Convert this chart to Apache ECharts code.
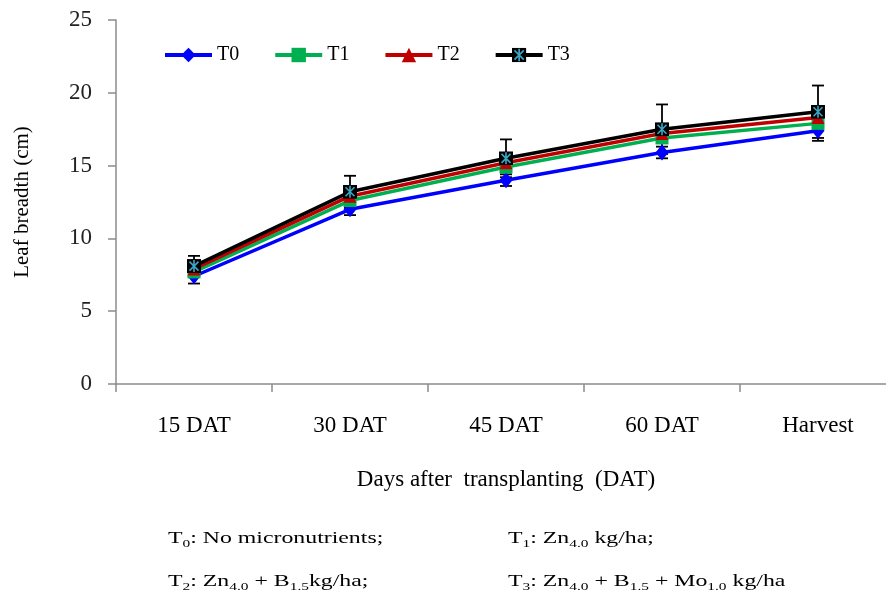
<!DOCTYPE html>
<html><head><meta charset="utf-8">
<script src="https://cdn.jsdelivr.net/npm/echarts@6/dist/echarts.min.js"></script>
<style>html,body{margin:0;padding:0;background:#fff}#c{width:886px;height:594px}</style>
</head><body><div id="c"></div>
<script>
var categories = ['15 DAT', '30 DAT', '45 DAT', '60 DAT', 'Harvest'];
var T0 = [7.4, 12.0, 14.0, 15.9, 17.4];
var T1 = [7.7, 12.6, 14.9, 16.9, 17.9];
var T2 = [7.9, 12.9, 15.2, 17.2, 18.3];
var T3 = [8.1, 13.2, 15.5, 17.5, 18.7];
var errT0 = [0.5, 0.4, 0.4, 0.4, 0.7];
var errT3 = [0.7, 1.1, 1.3, 1.7, 1.8];
var yTicks = [0, 5, 10, 15, 20, 25];

var FONT = 'Liberation Serif';
var t3Svg = "<svg xmlns='http://www.w3.org/2000/svg' width='14' height='14'><rect x='0' y='0' width='14' height='14' fill='#000'/><path d='M2.5 2.5L11.5 11.5M11.5 2.5L2.5 11.5M7 1V13' stroke='#3aa6c4' stroke-width='1.6' fill='none'/></svg>";
var t3Symbol = 'image://data:image/svg+xml;charset=utf-8,' + encodeURIComponent(t3Svg);

function errData(vals, errs) {
  return vals.map(function (v, i) { return [i, v - errs[i], v + errs[i]]; });
}
function errRender(params, api) {
  var x = api.value(0);
  var lo = api.coord([x, api.value(1)]);
  var hi = api.coord([x, api.value(2)]);
  var hw = 6;
  var st = { stroke: '#000', lineWidth: 1.8 };
  return { type: 'group', children: [
    { type: 'line', shape: { x1: lo[0], y1: lo[1], x2: hi[0], y2: hi[1] }, style: st },
    { type: 'line', shape: { x1: hi[0] - hw, y1: hi[1], x2: hi[0] + hw, y2: hi[1] }, style: st },
    { type: 'line', shape: { x1: lo[0] - hw, y1: lo[1], x2: lo[0] + hw, y2: lo[1] }, style: st }
  ]};
}
function rich() {
  return {
    n: { fontFamily: FONT, fontSize: 17, color: '#000', verticalAlign: 'bottom', lineHeight: 20 },
    s: { fontFamily: FONT, fontSize: 11, color: '#000', verticalAlign: 'bottom', lineHeight: 16, padding: [0, 0, -3, 0] }
  };
}
function note(x, y, text) {
  return { type: 'text', x: x, y: y, scaleX: 1.4, originX: 0,
    style: { rich: rich(), text: text, textVerticalAlign: 'middle', verticalAlign: 'middle' } };
}

var chart = echarts.init(document.getElementById('c'));
chart.setOption({
  animation: false,
  grid: { left: 116, width: 780, top: 20, bottom: 210, outerBoundsMode: 'none', containLabel: false },
  legend: {
    top: 40, left: 158, itemWidth: 47, itemHeight: 18, itemGap: 34,
    textStyle: { fontFamily: FONT, fontSize: 20, color: '#000' },
    lineStyle: { width: 4 },
    data: ['T0', 'T1', 'T2', 'T3']
  },
  xAxis: {
    type: 'category', data: categories, boundaryGap: true,
    axisLine: { lineStyle: { color: '#8c8c8c', width: 1.5 } },
    axisTick: { show: true, length: 8, lineStyle: { color: '#8c8c8c', width: 1.5 } },
    axisLabel: { fontFamily: FONT, fontSize: 23, color: '#000', margin: 30 },
    name: 'Days after  transplanting  (DAT)', nameLocation: 'middle', nameGap: 84,
    nameTextStyle: { fontFamily: FONT, fontSize: 23, color: '#000' }
  },
  yAxis: {
    type: 'value', min: 0, max: 25, interval: 5,
    splitLine: { show: false },
    axisLine: { show: true, lineStyle: { color: '#8c8c8c', width: 1.5 } },
    axisTick: { show: true, length: 8, lineStyle: { color: '#8c8c8c', width: 1.5 } },
    axisLabel: { fontFamily: FONT, fontSize: 23, color: '#222', margin: 24,
      formatter: function (v) { return yTicks.indexOf(v) >= 0 ? String(v) : ''; } },
    name: 'Leaf breadth (cm)', nameLocation: 'middle', nameGap: 83, nameRotate: 90,
    nameTextStyle: { fontFamily: FONT, fontSize: 21, color: '#000' }
  },
  series: [
    { type: 'custom', name: 'errT0', renderItem: errRender, data: errData(T0, errT0), z: 1, silent: true },
    { type: 'custom', name: 'errT3', renderItem: errRender, data: errData(T3, errT3), z: 1, silent: true },
    { name: 'T0', type: 'line', data: T0, z: 2, symbol: 'diamond', symbolSize: [13, 16],
      itemStyle: { color: '#0000ff' }, lineStyle: { color: '#0000ff', width: 3.5 } },
    { name: 'T1', type: 'line', data: T1, z: 3, symbol: 'rect', symbolSize: 13,
      itemStyle: { color: '#00b050' }, lineStyle: { color: '#00b050', width: 3.5 } },
    { name: 'T2', type: 'line', data: T2, z: 4, symbol: 'triangle', symbolSize: 13,
      itemStyle: { color: '#c00000' }, lineStyle: { color: '#c00000', width: 3.5 } },
    { name: 'T3', type: 'line', data: T3, z: 5, symbol: t3Symbol, symbolSize: 14,
      itemStyle: { color: '#000' }, lineStyle: { color: '#000', width: 3.5 } }
  ],
  graphic: [
    note(168, 537, '{n|T}{s|0}{n|: No micronutrients;}'),
    note(508, 537, '{n|T}{s|1}{n|: Zn}{s|4.0}{n| kg/ha;}'),
    note(168, 580, '{n|T}{s|2}{n|: Zn}{s|4.0}{n| + B}{s|1.5}{n|kg/ha;}'),
    note(508, 580, '{n|T}{s|3}{n|: Zn}{s|4.0}{n| + B}{s|1.5}{n| + Mo}{s|1.0}{n| kg/ha}')
  ]
});
</script></body></html>
